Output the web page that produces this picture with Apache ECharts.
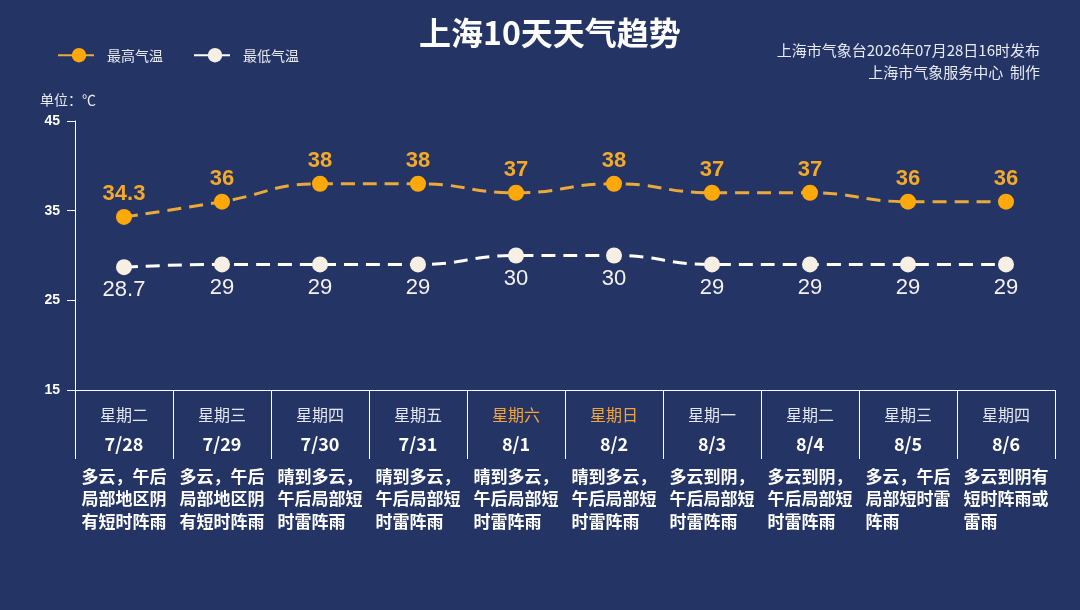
<!DOCTYPE html>
<html>
<head>
<meta charset="utf-8">
<script src="https://cdn.jsdelivr.net/npm/echarts@6/dist/echarts.min.js"></script>
<style>
html,body{margin:0;padding:0;background:#243464;}
#main{width:1080px;height:610px;}
</style>
</head>
<body>
<div id="main"></div>
<script>
const weekdays = ['星期二','星期三','星期四','星期五','星期六','星期日','星期一','星期二','星期三','星期四'];
const dates = ['7/28','7/29','7/30','7/31','8/1','8/2','8/3','8/4','8/5','8/6'];
const weather = [
  '多云，午后\n局部地区阴\n有短时阵雨',
  '多云，午后\n局部地区阴\n有短时阵雨',
  '晴到多云，\n午后局部短\n时雷阵雨',
  '晴到多云，\n午后局部短\n时雷阵雨',
  '晴到多云，\n午后局部短\n时雷阵雨',
  '晴到多云，\n午后局部短\n时雷阵雨',
  '多云到阴，\n午后局部短\n时雷阵雨',
  '多云到阴，\n午后局部短\n时雷阵雨',
  '多云，午后\n局部短时雷\n阵雨',
  '多云到阴有\n短时阵雨或\n雷雨'
];
const weekendIdx = [4, 5];
const highTemps = [34.3, 36, 38, 38, 37, 38, 37, 37, 36, 36];
const lowTemps = [28.7, 29, 29, 29, 30, 30, 29, 29, 29, 29];
const yTicks = {min: 15, max: 45, interval: 10};

const chart = echarts.init(document.getElementById('main'));
const fontCJK = '"Noto Sans CJK SC", "Noto Sans", sans-serif';
const fontNum = '"Liberation Sans", Arial, sans-serif';

chart.setOption({
  backgroundColor: '#243464',
  title: [
    {text: '上海10天天气趋势', left: 414, top: 12,
     textStyle: {color: '#ffffff', fontSize: 32, fontWeight: 'bold', fontFamily: fontCJK}},
    {text: '上海市气象台2026年07月28日16时发布', right: 35, top: 38,
     textStyle: {color: '#e8ebf3', fontSize: 15, fontWeight: 'normal', fontFamily: fontCJK}},
    {text: '上海市气象服务中心  制作', right: 35, top: 60,
     textStyle: {color: '#e8ebf3', fontSize: 15, fontWeight: 'normal', fontFamily: fontCJK}},
    {text: '单位：℃', left: 35, top: 88,
     textStyle: {color: '#e8ebf3', fontSize: 14, fontWeight: 'normal', fontFamily: fontCJK}}
  ],
  legend: {
    left: 52, top: 43, itemWidth: 42, itemHeight: 18, itemGap: 30,
    textStyle: {color: '#e8ebf3', fontSize: 14, fontFamily: fontCJK, padding: [0,0,0,2]},
    data: ['最高气温', '最低气温']
  },
  grid: {left: 75, right: 25, top: 121, bottom: 220},
  xAxis: {
    type: 'category',
    boundaryGap: true,
    data: dates,
    axisLine: {lineStyle: {color: '#ffffff', width: 1}},
    axisTick: {show: true, alignWithLabel: false, length: 69, lineStyle: {color: '#ffffff', width: 1}},
    axisLabel: {
      margin: 10,
      interval: 0,
      formatter: function (val, idx) {
        const d = weekdays[idx];
        const dayTag = weekendIdx.indexOf(idx) >= 0 ? 'wk' : 'day';
        const lines = weather[idx].split('\n').map(s => '{w|' + s + '}').join('\n');
        return '{' + dayTag + '|' + d + '}\n{date|' + val + '}\n{sp| }\n' + lines;
      },
      rich: {
        day: {color: '#e3e7f0', fontSize: 16, lineHeight: 30, fontFamily: fontCJK},
        wk: {color: '#f2a53a', fontSize: 16, lineHeight: 30, fontFamily: fontCJK},
        date: {color: '#ffffff', fontSize: 18, fontWeight: 'bold', lineHeight: 29, fontFamily: fontCJK},
        sp: {fontSize: 4, lineHeight: 6},
        w: {color: '#ffffff', fontSize: 17, fontWeight: 'bold', lineHeight: 22.5, fontFamily: fontCJK, align: 'left'}
      }
    }
  },
  yAxis: {
    type: 'value',
    min: yTicks.min, max: yTicks.max, interval: yTicks.interval,
    axisLine: {show: true, lineStyle: {color: '#ffffff', width: 1}},
    axisTick: {show: true, length: 8, lineStyle: {color: '#ffffff'}},
    splitLine: {show: false},
    axisLabel: {color: '#ffffff', fontSize: 14, fontWeight: 'bold', fontFamily: fontNum, margin: 15}
  },
  series: [
    {
      name: '最高气温', type: 'line', data: highTemps, smooth: true,
      symbol: 'circle', symbolSize: 16,
      itemStyle: {color: '#ffa80a'},
      lineStyle: {color: '#eaa93a', width: 3, type: [14, 8]},
      label: {show: true, position: 'top', distance: 4, color: '#f3aa2a', fontSize: 22,
              fontWeight: 'bold', fontFamily: fontNum}
    },
    {
      name: '最低气温', type: 'line', data: lowTemps, smooth: true,
      symbol: 'circle', symbolSize: 16,
      itemStyle: {color: '#f7efe3'},
      lineStyle: {color: '#ffffff', width: 3, type: [14, 8]},
      label: {show: true, position: 'bottom', distance: 4, color: '#f4f1ee', fontSize: 22,
              fontFamily: fontNum}
    }
  ]
});
</script>
</body>
</html>
